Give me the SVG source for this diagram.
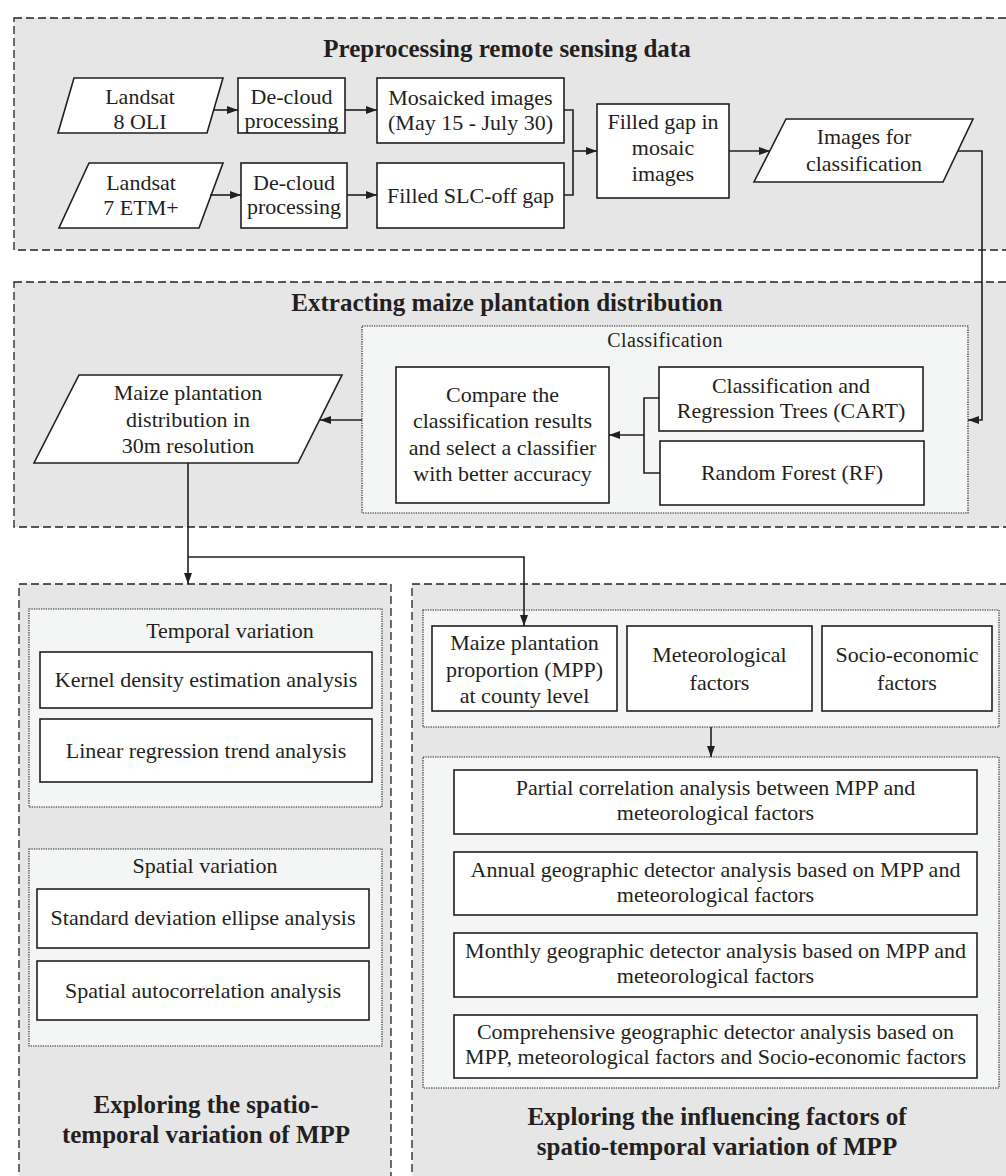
<svg xmlns="http://www.w3.org/2000/svg" width="1006" height="1176" viewBox="0 0 1006 1176">
<defs>
<style>
.sec{fill:#e6e6e6;stroke:#231f20;stroke-width:1.3;stroke-dasharray:8 4}
.grp{fill:#f4f5f5;stroke:#231f20;stroke-width:1.1;stroke-dasharray:1.3 1.1}
.box{fill:#fff;stroke:#231f20;stroke-width:1.6}
.ln{fill:none;stroke:#231f20;stroke-width:1.6}
text{font-family:"Liberation Serif","Times New Roman",serif;fill:#231f20;font-size:22px;text-anchor:middle}
.t{font-weight:bold;font-size:25px}
.lbl{font-size:20px;letter-spacing:0.4px}
</style>
<marker id="ah" markerWidth="12" markerHeight="10" refX="11" refY="5" orient="auto" markerUnits="userSpaceOnUse">
<path d="M0,1 L11,5 L0,9 Z" fill="#231f20"/>
</marker>
</defs>

<g id="sections">
<rect class="sec" x="14" y="18" width="1000" height="232"/>
<rect class="sec" x="14" y="282" width="1000" height="245"/>
<rect class="sec" x="19" y="584" width="372" height="600"/>
<rect class="sec" x="412" y="584" width="600" height="600"/>
<text class="t" x="507" y="57">Preprocessing remote sensing data</text>
<text class="t" x="507" y="311">Extracting maize plantation distribution</text>
<text class="t" x="206" y="1113">Exploring the spatio-</text>
<text class="t" x="206" y="1143">temporal variation of MPP</text>
<text class="t" x="717" y="1125">Exploring the influencing factors of</text>
<text class="t" x="717" y="1155">spatio-temporal variation of MPP</text>
</g>

<g id="groups">
<rect class="grp" x="362" y="326" width="606" height="187"/>
<text class="lbl" x="665" y="347">Classification</text>
<rect class="grp" x="29" y="609" width="353" height="198"/>
<text x="230" y="638">Temporal variation</text>
<rect class="grp" x="29" y="849" width="353" height="197"/>
<text x="205" y="873">Spatial variation</text>
<rect class="grp" x="423" y="610" width="576" height="117"/>
<rect class="grp" x="423" y="757" width="576" height="331"/>
</g>

<g id="landsat8">
<polygon class="box" points="74,78 223,78 207,133 58,133"/>
<text x="140" y="104">Landsat</text>
<text x="140" y="129">8 OLI</text>
</g>
<g id="decloud1">
<rect class="box" x="238" y="78" width="107" height="55"/>
<text x="291.5" y="104">De-cloud</text>
<text x="291.5" y="128">processing</text>
</g>
<g id="mosaicked">
<rect class="box" x="377" y="78" width="187" height="65"/>
<text x="470.5" y="105">Mosaicked images</text>
<text x="470.5" y="130">(May 15 - July 30)</text>
</g>
<g id="landsat7">
<polygon class="box" points="89,163 223,163 199,228 59,228"/>
<text x="141" y="190">Landsat</text>
<text x="141" y="215">7 ETM+</text>
</g>
<g id="decloud2">
<rect class="box" x="241" y="163" width="106" height="65"/>
<text x="294" y="190">De-cloud</text>
<text x="294" y="214">processing</text>
</g>
<g id="filledslc">
<rect class="box" x="377" y="163" width="187" height="65"/>
<text x="470.5" y="203">Filled SLC-off gap</text>
</g>
<g id="filledgap">
<rect class="box" x="597" y="104" width="132" height="94"/>
<text x="663" y="129">Filled gap in</text>
<text x="663" y="155">mosaic</text>
<text x="663" y="181">images</text>
</g>
<g id="imagesclass">
<polygon class="box" points="786,119 973,119 943,182 754,182"/>
<text x="864" y="144">Images for</text>
<text x="864" y="171">classification</text>
</g>

<g id="maizedist">
<polygon class="box" points="79,375 342,375 298,463 34,463"/>
<text x="188" y="400">Maize plantation</text>
<text x="188" y="427">distribution in</text>
<text x="188" y="453">30m resolution</text>
</g>
<g id="compare">
<rect class="box" x="396" y="367" width="213" height="136"/>
<text x="502.5" y="402">Compare the</text>
<text x="502.5" y="428">classification results</text>
<text x="502.5" y="455">and select a classifier</text>
<text x="502.5" y="481">with better accuracy</text>
</g>
<g id="cart">
<rect class="box" x="659" y="367" width="264" height="64"/>
<text x="791" y="393">Classification and</text>
<text x="791" y="418">Regression Trees (CART)</text>
</g>
<g id="rf">
<rect class="box" x="660" y="441" width="264" height="64"/>
<text x="792" y="480">Random Forest (RF)</text>
</g>

<g id="kernel">
<rect class="box" x="40" y="652" width="332" height="56"/>
<text x="206" y="687">Kernel density estimation analysis</text>
</g>
<g id="linear">
<rect class="box" x="40" y="719" width="332" height="63"/>
<text x="206" y="758">Linear regression trend analysis</text>
</g>
<g id="sde">
<rect class="box" x="37" y="889" width="332" height="59"/>
<text x="203" y="925">Standard deviation ellipse analysis</text>
</g>
<g id="spauto">
<rect class="box" x="37" y="961" width="332" height="59"/>
<text x="203" y="998">Spatial autocorrelation analysis</text>
</g>

<g id="mpp">
<rect class="box" x="432" y="626" width="185" height="85"/>
<text x="524.5" y="650">Maize plantation</text>
<text x="524.5" y="677">proportion (MPP)</text>
<text x="524.5" y="703">at county level</text>
</g>
<g id="meteo">
<rect class="box" x="627" y="626" width="185" height="85"/>
<text x="719.5" y="662">Meteorological</text>
<text x="719.5" y="690">factors</text>
</g>
<g id="socio">
<rect class="box" x="822" y="626" width="170" height="85"/>
<text x="907" y="662">Socio-economic</text>
<text x="907" y="690">factors</text>
</g>
<g id="partial">
<rect class="box" x="454" y="770" width="523" height="64"/>
<text x="715.5" y="795">Partial correlation analysis between MPP and</text>
<text x="715.5" y="820">meteorological factors</text>
</g>
<g id="annual">
<rect class="box" x="454" y="852" width="523" height="63"/>
<text x="715.5" y="877">Annual geographic detector analysis based on MPP and</text>
<text x="715.5" y="902">meteorological factors</text>
</g>
<g id="monthly">
<rect class="box" x="454" y="933" width="523" height="64"/>
<text x="715.5" y="958">Monthly geographic detector analysis based on MPP and</text>
<text x="715.5" y="983">meteorological factors</text>
</g>
<g id="comprehensive">
<rect class="box" x="454" y="1015" width="523" height="63"/>
<text x="715.5" y="1039">Comprehensive geographic detector analysis based on</text>
<text x="715.5" y="1064">MPP, meteorological factors and Socio-economic factors</text>
</g>

<g id="connectors">
<line class="ln" x1="214" y1="110" x2="238" y2="110" marker-end="url(#ah)"/>
<line class="ln" x1="345" y1="110" x2="377" y2="110" marker-end="url(#ah)"/>
<line class="ln" x1="210" y1="195" x2="241" y2="195" marker-end="url(#ah)"/>
<line class="ln" x1="347" y1="195" x2="377" y2="195" marker-end="url(#ah)"/>
<polyline class="ln" points="564,110 573,110 573,195 564,195"/>
<line class="ln" x1="573" y1="151" x2="597" y2="151" marker-end="url(#ah)"/>
<line class="ln" x1="729" y1="151" x2="770" y2="151" marker-end="url(#ah)"/>
<polyline class="ln" points="958,151 982,151 982,420 968,420" marker-end="url(#ah)"/>
<polyline class="ln" points="659,398 644,398 644,473 660,473"/>
<line class="ln" x1="644" y1="435" x2="609" y2="435" marker-end="url(#ah)"/>
<line class="ln" x1="362" y1="420" x2="320" y2="420" marker-end="url(#ah)"/>
<line class="ln" x1="188" y1="463" x2="188" y2="584" marker-end="url(#ah)"/>
<polyline class="ln" points="188,557 524,557 524,626" marker-end="url(#ah)"/>
<line class="ln" x1="711" y1="727" x2="711" y2="757" marker-end="url(#ah)"/>
</g>
</svg>
